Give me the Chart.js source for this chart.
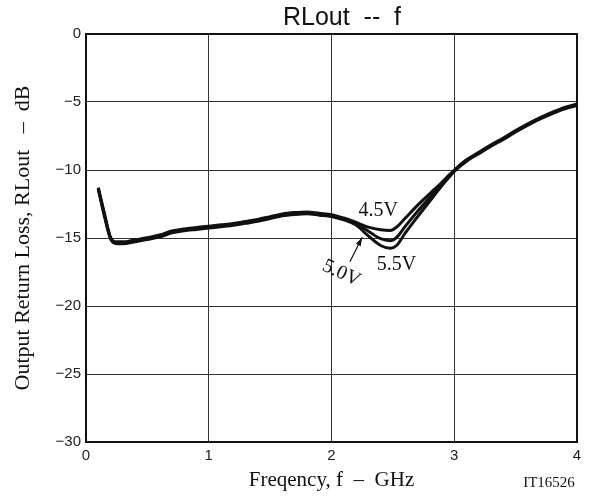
<!DOCTYPE html>
<html>
<head>
<meta charset="utf-8">
<script src="https://cdn.jsdelivr.net/npm/chart.js@4.4.1/dist/chart.umd.min.js"></script>
<style>
    html, body { margin: 0; padding: 0; background: #fff; }
    #wrap { width: 590px; height: 497px; }
</style>
</head>
<body>
<div id="wrap"><canvas id="rl-chart" width="590" height="497"></canvas></div>
<script>
// Frequency points (GHz), shared by all three supply voltages
const freq = [0.1, 0.15, 0.2, 0.25, 0.3, 0.4, 0.5, 0.6, 0.7, 0.8, 0.9, 1.0,
    1.1, 1.2, 1.3, 1.4, 1.5, 1.6, 1.7, 1.8, 1.9, 2.0, 2.1, 2.2,
    2.3, 2.4, 2.48, 2.53, 2.6, 2.7, 2.8, 2.9, 3.0,
    3.1, 3.2, 3.3, 3.4, 3.5, 3.6, 3.7, 3.8, 3.9, 4.0];

// Output return loss (dB)
const rl45 = [-11.3, -13.2, -14.95, -15.28, -15.28, -15.13, -14.98, -14.78, -14.48, -14.33, -14.23, -14.13,
    -14.03, -13.93, -13.78, -13.63, -13.43, -13.23, -13.13, -13.08, -13.18, -13.28, -13.53, -13.85,
    -14.2, -14.4, -14.45, -14.2, -13.55, -12.6, -11.75, -10.9, -10.0,
    -9.25, -8.7, -8.15, -7.65, -7.1, -6.6, -6.15, -5.75, -5.4, -5.15];
const rl50 = [-11.35, -13.3, -15.0, -15.35, -15.35, -15.2, -15.05, -14.85, -14.55, -14.4, -14.3, -14.2,
    -14.1, -14.0, -13.85, -13.7, -13.5, -13.3, -13.2, -13.15, -13.25, -13.35, -13.6, -13.95,
    -14.5, -15.05, -15.2, -14.95, -14.15, -13.05, -12.05, -11.05, -10.05,
    -9.3, -8.75, -8.2, -7.7, -7.15, -6.65, -6.2, -5.8, -5.45, -5.2];
const rl55 = [-11.4, -13.4, -15.07, -15.42, -15.42, -15.27, -15.12, -14.92, -14.62, -14.47, -14.37, -14.27,
    -14.17, -14.07, -13.92, -13.77, -13.57, -13.37, -13.27, -13.22, -13.32, -13.42, -13.67, -14.05,
    -14.85, -15.55, -15.75, -15.55, -14.65, -13.45, -12.3, -11.15, -10.1,
    -9.35, -8.8, -8.25, -7.75, -7.2, -6.7, -6.25, -5.85, -5.5, -5.25];

const voltages = ['4.5V', '5.0V', '5.5V'];
const xTicks = [0, 1, 2, 3, 4];
const yTicks = [0, -5, -10, -15, -20, -25, -30];

const serif = "'Liberation Serif', 'Times New Roman', serif";
const sans = "'Liberation Sans', Arial, sans-serif";

function toPoints(values) {
    return freq.map((f, i) => ({ x: f, y: values[i] }));
}

// Frame, title, voltage labels and figure number
const extrasPlugin = {
    id: 'extras',
    beforeDatasetsDraw(chart) {
        const { ctx, chartArea: a } = chart;
        ctx.save();
        ctx.strokeStyle = '#111';
        ctx.lineWidth = 2;
        ctx.strokeRect(a.left, a.top, a.right - a.left, a.bottom - a.top);
        ctx.restore();
    },
    afterDatasetsDraw(chart) {
        const { ctx } = chart;
        const xs = chart.scales.x, ys = chart.scales.y;
        const px = v => xs.getPixelForValue(v);
        const py = v => ys.getPixelForValue(v);
        ctx.save();
        ctx.fillStyle = '#111';
        ctx.textAlign = 'center';
        ctx.textBaseline = 'middle';

        // title
        ctx.font = '25px ' + sans;
        ctx.fillText('RLout  --  f', 342, 18);

        // curve labels
        ctx.font = '20px ' + serif;
        ctx.fillText(voltages[0], px(2.38), py(-13.0));
        ctx.fillText(voltages[2], px(2.53), py(-16.95));
        ctx.save();
        ctx.translate(px(2.08), py(-17.6));
        ctx.rotate(25 * Math.PI / 180);
        ctx.fillText(voltages[1], 0, 0);
        ctx.restore();

        // arrow for 5.0V
        const x1 = px(2.15), y1 = py(-16.75), x2 = px(2.25), y2 = py(-14.95);
        ctx.strokeStyle = '#111';
        ctx.lineWidth = 1.2;
        ctx.beginPath();
        ctx.moveTo(x1, y1);
        ctx.lineTo(x2, y2);
        ctx.stroke();
        const ang = Math.atan2(y2 - y1, x2 - x1);
        ctx.beginPath();
        ctx.moveTo(x2, y2);
        ctx.lineTo(x2 - 9 * Math.cos(ang - 0.3), y2 - 9 * Math.sin(ang - 0.3));
        ctx.lineTo(x2 - 9 * Math.cos(ang + 0.3), y2 - 9 * Math.sin(ang + 0.3));
        ctx.closePath();
        ctx.fill();

        // figure number
        ctx.font = '15px ' + serif;
        ctx.fillText('IT16526', 549, 483);
        ctx.restore();
    }
};

function renderChart() {
    const ctx = document.getElementById('rl-chart').getContext('2d');
    const series = [rl45, rl50, rl55];

    new Chart(ctx, {
        type: 'line',
        data: {
            datasets: series.map((vals, i) => ({
                label: voltages[i],
                data: toPoints(vals),
                borderColor: '#111',
                borderWidth: 3,
                pointRadius: 0,
                fill: false,
                cubicInterpolationMode: 'monotone'
            }))
        },
        options: {
            responsive: false,
            animation: false,
            layout: { padding: { left: 0, right: 13, top: 34, bottom: 0 } },
            plugins: {
                legend: { display: false },
                tooltip: { enabled: false }
            },
            scales: {
                x: {
                    type: 'linear',
                    min: 0,
                    max: 4,
                    afterFit: scale => { scale.height = 55; },
                    afterBuildTicks: scale => { scale.ticks = xTicks.map(v => ({ value: v })); },
                    grid: { color: '#333', lineWidth: 1, drawTicks: false },
                    border: { display: false },
                    ticks: {
                        padding: 5,
                        color: '#222',
                        font: { family: sans, size: 15 }
                    },
                    title: {
                        display: true,
                        text: 'Freqency, f  –  GHz',
                        color: '#111',
                        font: { family: serif, size: 21 },
                        padding: { top: 0, bottom: 4 }
                    }
                },
                y: {
                    min: -30,
                    max: 0,
                    afterFit: scale => { scale.width = 86; },
                    afterBuildTicks: scale => { scale.ticks = yTicks.map(v => ({ value: v })); },
                    grid: { color: '#333', lineWidth: 1, drawTicks: false },
                    border: { display: false },
                    ticks: {
                        padding: 5,
                        color: '#222',
                        font: { family: sans, size: 15 },
                        callback: v => (v < 0 ? '−' + Math.abs(v) : String(v))
                    },
                    title: {
                        display: true,
                        text: 'Output Return Loss, RLout   –  dB',
                        color: '#111',
                        font: { family: serif, size: 22 },
                        padding: { top: 10, bottom: 0 }
                    }
                }
            }
        },
        plugins: [extrasPlugin]
    });
}

document.addEventListener('DOMContentLoaded', renderChart);
</script>
</body>
</html>
